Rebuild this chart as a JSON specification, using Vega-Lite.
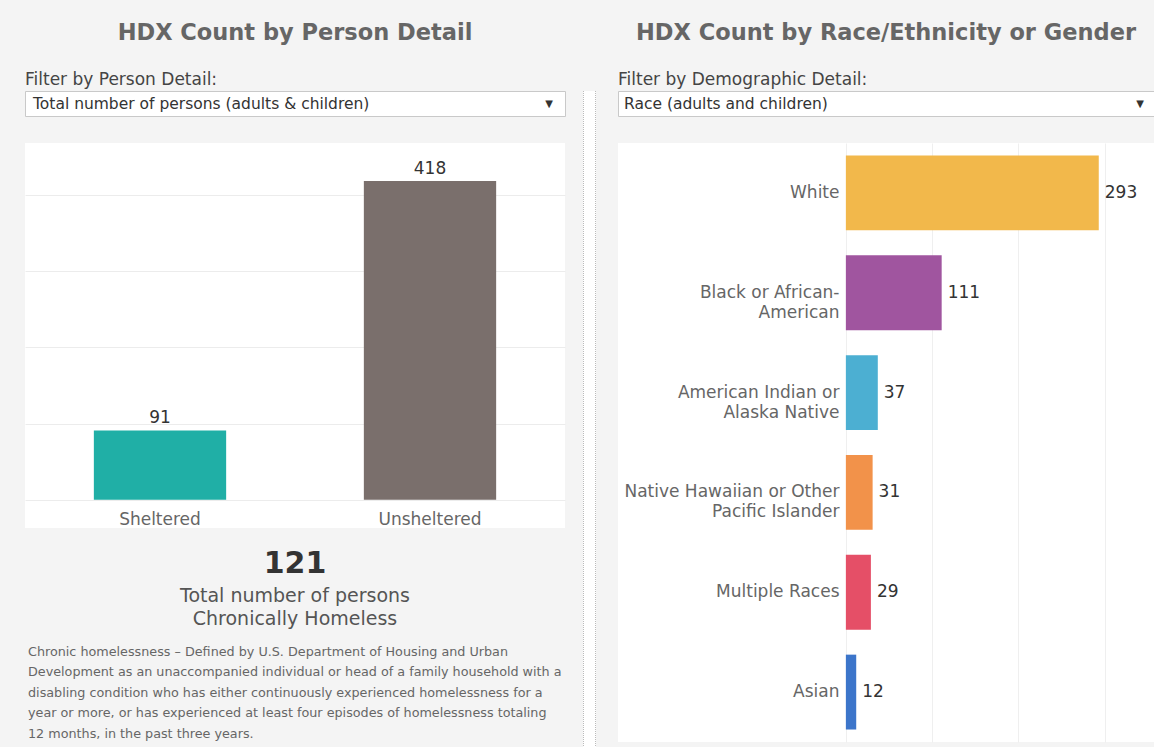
{
  "$schema": "https://vega.github.io/schema/vega-lite/v6.json",
  "background": "#f4f4f4",
  "padding": {"left": 24, "top": 0, "right": 0, "bottom": 0},
  "spacing": 0,
  "resolve": {"scale": {"color": "independent", "x": "independent", "y": "independent"}},
  "config": {"font": "DejaVu Sans", "view": {"stroke": null}},
  "datasets": {
    "filterL": [{"selected": "Total number of persons (adults & children)"}],
    "filterR": [{"selected": "Race (adults and children)"}],
    "shelter": [
      {"status": "Sheltered", "count": 91},
      {"status": "Unsheltered", "count": 418}
    ],
    "race": [
      {"race": "White", "count": 293},
      {"race": "Black or African-American", "count": 111},
      {"race": "American Indian or Alaska Native", "count": 37},
      {"race": "Native Hawaiian or Other Pacific Islander", "count": 31},
      {"race": "Multiple Races", "count": 29},
      {"race": "Asian", "count": 12}
    ],
    "chronic": [{"count": 121}],
    "note": [{"text": "Chronic homelessness – Defined by U.S. Department of Housing and Urban\nDevelopment as an unaccompanied individual or head of a family household with a\ndisabling condition who has either continuously experienced homelessness for a\nyear or more, or has experienced at least four episodes of homelessness totaling\n12 months, in the past three years."}],
    "sep": [{"panel": "separator"}]
  },
  "hconcat": [
    {
      "title": {"text": ["", "HDX Count by Person Detail"], "anchor": "middle", "fontSize": 22.5, "fontWeight": "bold", "color": "#666666", "lineHeight": 22, "baseline": "top", "offset": 26},
      "spacing": 26,
      "resolve": {"scale": {"color": "independent", "x": "independent", "y": "independent"}},
      "vconcat": [
        {
          "width": 540, "height": 25,
          "title": {"text": "Filter by Person Detail:", "anchor": "start", "fontSize": 17, "fontWeight": "normal", "color": "#444444", "offset": 2, "baseline": "top"},
          "view": {"fill": "white", "stroke": "#c9c9c9"},
          "data": {"name": "filterL"},
          "layer": [
            {"mark": {"type": "text", "align": "left", "dx": 8, "fontSize": 15.5, "color": "#333333"},
             "encoding": {"x": {"datum": 0, "type": "quantitative", "scale": {"domain": [0, 1], "nice": false, "zero": false}, "axis": null}, "text": {"field": "selected"}}},
            {"mark": {"type": "text", "align": "right", "dx": -12, "fontSize": 10, "color": "#333333", "text": "▼"},
             "encoding": {"x": {"datum": 1, "type": "quantitative", "axis": null}}}
          ]
        },
        {
          "spacing": 21,
          "resolve": {"scale": {"color": "independent", "x": "independent", "y": "independent"}},
          "vconcat": [
            {
              "width": 540, "height": 385,
              "view": {"fill": "white"},
              "data": {"name": "shelter"},
              "encoding": {
                "x": {"field": "status", "type": "nominal", "sort": null,
                      "scale": {"paddingInner": 0.51, "paddingOuter": 0.255},
                      "axis": {"title": null, "orient": "bottom", "offset": -28, "labelAngle": 0, "labelFontSize": 17, "labelColor": "#666666", "labelPadding": 11, "labelBaseline": "top", "domain": false, "ticks": false, "grid": false}},
                "y": {"field": "count", "type": "quantitative",
                      "scale": {"domain": [-37, 468], "nice": false, "zero": false},
                      "axis": {"title": null, "labels": false, "ticks": false, "domain": false, "grid": true, "gridColor": "#ececec", "values": [0, 100, 200, 300, 400]}}
              },
              "layer": [
                {"mark": {"type": "bar"},
                 "encoding": {"y2": {"datum": 0},
                   "color": {"field": "status", "type": "nominal", "scale": {"domain": ["Sheltered", "Unsheltered"], "range": ["#20AFA6", "#7A6F6C"]}, "legend": null}}},
                {"mark": {"type": "text", "baseline": "alphabetic", "dy": -7, "fontSize": 17, "color": "#333333"},
                 "encoding": {"text": {"field": "count"}}}
              ]
            },
            {
              "spacing": 16,
              "vconcat": [
                {
                  "width": 540, "height": 30,
                  "data": {"name": "chronic"},
                  "title": {"text": ["Total number of persons", "Chronically Homeless"], "orient": "bottom", "anchor": "middle", "fontSize": 19, "fontWeight": "normal", "color": "#555555", "lineHeight": 23, "offset": 8, "baseline": "top"},
                  "mark": {"type": "text", "fontSize": 30, "fontWeight": "bold", "color": "#333333"},
                  "encoding": {"text": {"field": "count"}}
                },
                {
                  "width": 540, "height": 1,
                  "data": {"name": "note"},
                  "mark": {"type": "text", "align": "left", "baseline": "top", "dx": 3, "fontSize": 12.75, "color": "#666666", "lineHeight": 20.5, "lineBreak": "\n"},
                  "encoding": {
                    "x": {"datum": 0, "type": "quantitative", "scale": {"domain": [0, 1], "nice": false, "zero": false}, "axis": null},
                    "text": {"field": "text"}
                  }
                }
              ]
            }
          ]
        }
      ]
    },
    {
      "width": 51, "height": 747,
      "data": {"name": "sep"},
      "layer": [
        {"mark": {"type": "rect", "color": "white"},
         "encoding": {"x": {"datum": 17, "type": "quantitative", "scale": {"domain": [0, 51], "nice": false, "zero": false}, "axis": null}, "x2": {"datum": 30}}},
        {"mark": {"type": "rule", "color": "#bbbbbb", "strokeDash": [1, 1]},
         "encoding": {"x": {"datum": 17.5, "type": "quantitative", "axis": null}}},
        {"mark": {"type": "rule", "color": "#bbbbbb", "strokeDash": [1, 1]},
         "encoding": {"x": {"datum": 29.5, "type": "quantitative", "axis": null}}}
      ]
    },
    {
      "title": {"text": ["", "HDX Count by Race/Ethnicity or Gender"], "anchor": "middle", "fontSize": 22.5, "fontWeight": "bold", "color": "#666666", "lineHeight": 22, "baseline": "top", "offset": 26},
      "spacing": 26,
      "resolve": {"scale": {"color": "independent", "x": "independent", "y": "independent"}},
      "vconcat": [
        {
          "width": 536, "height": 25,
          "title": {"text": "Filter by Demographic Detail:", "anchor": "start", "fontSize": 17, "fontWeight": "normal", "color": "#444444", "offset": 2, "baseline": "top"},
          "view": {"fill": "white", "stroke": "#c9c9c9"},
          "data": {"name": "filterR"},
          "layer": [
            {"mark": {"type": "text", "align": "left", "dx": 6, "fontSize": 15.5, "color": "#333333"},
             "encoding": {"x": {"datum": 0, "type": "quantitative", "scale": {"domain": [0, 1], "nice": false, "zero": false}, "axis": null}, "text": {"field": "selected"}}},
            {"mark": {"type": "text", "align": "right", "dx": -10, "fontSize": 10, "color": "#333333", "text": "▼"},
             "encoding": {"x": {"datum": 1, "type": "quantitative", "axis": null}}}
          ]
        },
        {
          "width": 536, "height": 599,
          "view": {"fill": "white"},
          "data": {"name": "race"},
          "encoding": {
            "y": {"field": "race", "type": "nominal",
                  "sort": ["White", "Black or African-American", "American Indian or Alaska Native", "Native Hawaiian or Other Pacific Islander", "Multiple Races", "Asian"],
                  "scale": {"paddingInner": 0.25, "paddingOuter": 0.125},
                  "axis": {"title": null, "orient": "left", "offset": -228, "labelFontSize": 17, "labelColor": "#666666", "labelPadding": 7, "ticks": false, "domain": false, "grid": false, "labelLimit": 400, "labelLineHeight": 20,
                           "labelExpr": "datum.value == 'Black or African-American' ? ['Black or African-', 'American'] : datum.value == 'American Indian or Alaska Native' ? ['American Indian or\u00a0', 'Alaska Native'] : datum.value == 'Native Hawaiian or Other Pacific Islander' ? ['Native Hawaiian or Other\u00a0', 'Pacific Islander'] : datum.value"}},
            "x": {"field": "count", "type": "quantitative",
                  "scale": {"domain": [-264, 357], "nice": false, "zero": false},
                  "axis": {"title": null, "labels": false, "ticks": false, "domain": false, "grid": true, "gridColor": "#efefef", "values": [0, 100, 200, 300]}}
          },
          "layer": [
            {"mark": {"type": "bar"},
             "encoding": {"x2": {"datum": 0},
               "color": {"field": "race", "type": "nominal", "scale": {"domain": ["White", "Black or African-American", "American Indian or Alaska Native", "Native Hawaiian or Other Pacific Islander", "Multiple Races", "Asian"], "range": ["#F2B84B", "#A0559F", "#4CAFD2", "#F2924A", "#E54F67", "#3C75CA"]}, "legend": null}}},
            {"mark": {"type": "text", "align": "left", "baseline": "middle", "dx": 6, "fontSize": 17, "color": "#333333"},
             "encoding": {"text": {"field": "count"}}}
          ]
        }
      ]
    }
  ]
}
